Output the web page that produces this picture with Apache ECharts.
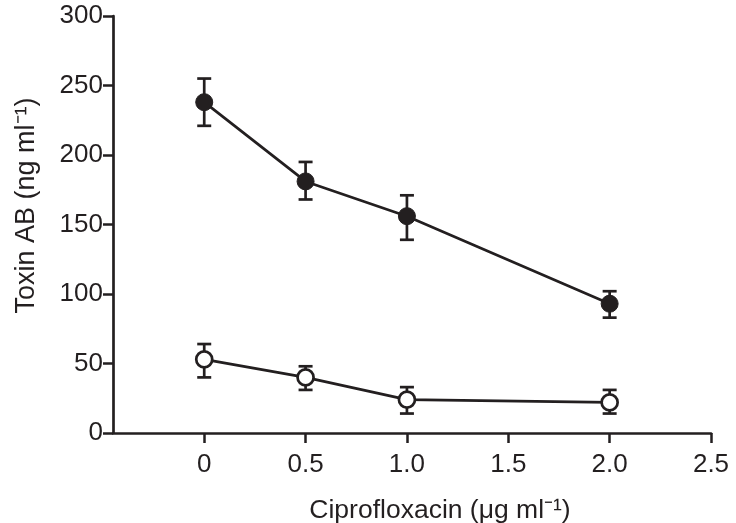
<!DOCTYPE html>
<html>
<head>
<meta charset="utf-8">
<script src="https://cdn.jsdelivr.net/npm/echarts@6/dist/echarts.min.js"></script>
<style>html,body{margin:0;padding:0;background:#fff}#c{width:736px;height:523px}</style>
</head>
<body>
<div id="c"></div>
<script>
var concentrations = [0, 0.5, 1.0, 2.0];
var filledMean = [238, 181, 156, 93];
var filledLow  = [221, 168, 139, 83];
var filledHigh = [255, 195, 171, 102];
var openMean = [53, 40, 24, 22];
var openLow  = [40, 31, 14, 14];
var openHigh = [64, 48, 33, 31];
var xTickValues = [0, 0.5, 1.0, 1.5, 2.0, 2.5];

var ink = '#231f20';
var font = 'Liberation Sans, Arial, Helvetica, sans-serif';

function pairs(xs, ys) { return xs.map(function (x, i) { return [x, ys[i]]; }); }
function errData(xs, lo, hi) { return xs.map(function (x, i) { return [x, lo[i], hi[i]]; }); }

function renderErr(params, api) {
  var x = api.value(0), lo = api.value(1), hi = api.value(2);
  var pLo = api.coord([x, lo]), pHi = api.coord([x, hi]);
  var w = 7;
  var st = { stroke: ink, lineWidth: 2.7, fill: null };
  return {
    type: 'group',
    children: [
      { type: 'line', shape: { x1: pLo[0], y1: pLo[1], x2: pHi[0], y2: pHi[1] }, style: st },
      { type: 'line', shape: { x1: pLo[0] - w, y1: pLo[1], x2: pLo[0] + w, y2: pLo[1] }, style: st },
      { type: 'line', shape: { x1: pHi[0] - w, y1: pHi[1], x2: pHi[0] + w, y2: pHi[1] }, style: st }
    ]
  };
}

var chart = echarts.init(document.getElementById('c'), null, { renderer: 'canvas' });
chart.setOption({
  backgroundColor: '#fff',
  animation: false,
  grid: { left: 113, right: 25, top: 16, bottom: 90, containLabel: false, outerBoundsMode: 'none' },
  xAxis: {
    type: 'value', min: -0.45, max: 2.5,
    name: 'Ciprofloxacin (\u03bcg ml\u207b\u00b9)', nameLocation: 'middle', nameGap: 64,
    nameTextStyle: { color: ink, fontFamily: font, fontSize: 26.5, padding: [0, 0, 0, 56] },
    axisLine: { show: true, onZero: false, lineStyle: { color: ink, width: 2.7 } },
    axisTick: { show: true, length: 10, lineStyle: { color: ink, width: 2.5 }, customValues: xTickValues },
    axisLabel: { color: ink, fontFamily: font, fontSize: 26, margin: 19, customValues: xTickValues,
      formatter: function (v) { return v === 0 ? '0' : v.toFixed(1); } },
    splitLine: { show: false }
  },
  yAxis: {
    type: 'value', min: 0, max: 300, interval: 50,
    name: 'Toxin AB (ng ml\u207b\u00b9)', nameLocation: 'middle', nameGap: 73, nameRotate: 90,
    nameTextStyle: { color: ink, fontFamily: font, fontSize: 27, padding: [0, 0, 0, 38] },
    axisLine: { show: true, onZero: false, lineStyle: { color: ink, width: 2.7 } },
    axisTick: { show: true, length: 10, lineStyle: { color: ink, width: 2.5 } },
    axisLabel: { color: ink, fontFamily: font, fontSize: 26, margin: 10 },
    splitLine: { show: false }
  },
  series: [
    { type: 'custom', renderItem: renderErr, data: errData(concentrations, filledLow, filledHigh), z: 1,
      encode: { x: 0, y: [1, 2] }, silent: true },
    { type: 'custom', renderItem: renderErr, data: errData(concentrations, openLow, openHigh), z: 1,
      encode: { x: 0, y: [1, 2] }, silent: true },
    { type: 'line', data: pairs(concentrations, filledMean), z: 3,
      symbol: 'circle', symbolSize: 17,
      lineStyle: { color: ink, width: 2.7 },
      itemStyle: { color: ink, borderColor: ink, borderWidth: 1 } },
    { type: 'line', data: pairs(concentrations, openMean), z: 3,
      symbol: 'circle', symbolSize: 16,
      lineStyle: { color: ink, width: 2.7 },
      itemStyle: { color: '#fff', borderColor: ink, borderWidth: 2.7 } }
  ]
});
</script>
</body>
</html>
